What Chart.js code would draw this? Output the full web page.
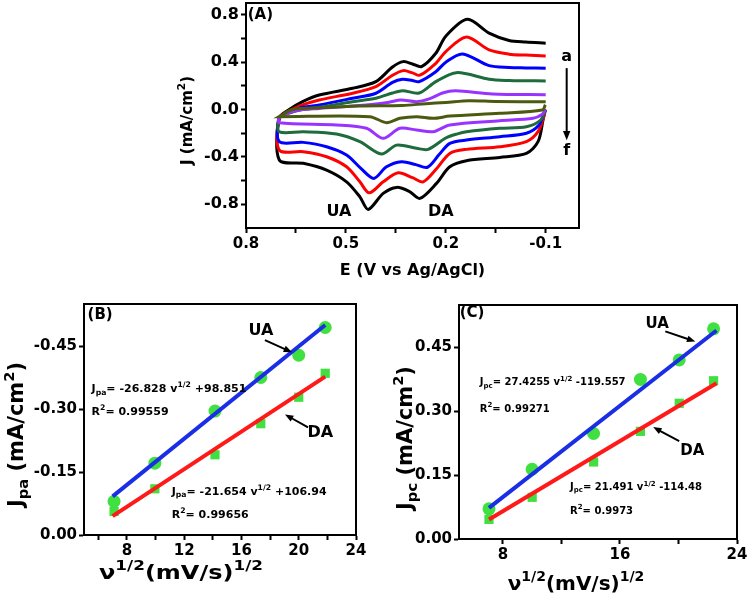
<!DOCTYPE html>
<html>
<head>
<meta charset="utf-8">
<script src="https://cdn.jsdelivr.net/npm/chart.js@4.4.0/dist/chart.umd.min.js"></script>
<style>
  body { margin: 0; background: #fff; width: 749px; height: 603px; position: relative; overflow: hidden; }
  .box { position: absolute; }
</style>
</head>
<body>
<div class="box" style="left:150px;top:0;width:440px;height:290px"><canvas id="cA"></canvas></div>
<div class="box" style="left:0;top:295px;width:370px;height:308px"><canvas id="cB"></canvas></div>
<div class="box" style="left:370px;top:295px;width:379px;height:308px"><canvas id="cC"></canvas></div>
<script>
// ---------- data ----------

// (A) voltammograms a..f, pairs of [E (V), J (mA/cm2)]
// forward scan (upper branch) and return scan (lower branch)
const upA = [[-0.10,0.561],[-0.04,0.570],[0.01,0.583],[0.07,0.645],[0.135,0.762],[0.20,0.620],[0.23,0.476],[0.273,0.363],[0.30,0.385],[0.328,0.405],[0.36,0.360],[0.41,0.236],[0.48,0.180],[0.58,0.123],[0.63,0.067],[0.67,0.000],[0.70,-0.07]];
const upB = [[-0.10,0.453],[-0.04,0.460],[0.01,0.468],[0.07,0.504],[0.138,0.613],[0.20,0.490],[0.23,0.391],[0.278,0.290],[0.30,0.310],[0.328,0.329],[0.36,0.290],[0.41,0.194],[0.48,0.138],[0.58,0.081],[0.63,0.039],[0.67,-0.01],[0.70,-0.07]];
const upC = [[-0.10,0.349],[-0.04,0.352],[0.01,0.355],[0.07,0.371],[0.15,0.470],[0.20,0.400],[0.23,0.320],[0.28,0.236],[0.30,0.245],[0.33,0.256],[0.36,0.230],[0.41,0.138],[0.48,0.096],[0.58,0.039],[0.63,0.019],[0.67,-0.02],[0.70,-0.07]];
const upD = [[-0.10,0.242],[-0.04,0.243],[0.01,0.245],[0.07,0.256],[0.168,0.312],[0.23,0.236],[0.28,0.140],[0.33,0.160],[0.36,0.140],[0.41,0.096],[0.48,0.067],[0.58,0.019],[0.63,0.000],[0.67,-0.03],[0.70,-0.07]];
const upE = [[-0.10,0.126],[0.06,0.132],[0.17,0.158],[0.21,0.140],[0.25,0.090],[0.288,0.067],[0.335,0.081],[0.37,0.062],[0.41,0.047],[0.48,0.030],[0.58,0.010],[0.65,-0.01],[0.70,-0.07]];
const upF = [[-0.10,0.067],[0.05,0.068],[0.13,0.075],[0.20,0.060],[0.26,0.050],[0.33,0.035],[0.46,0.030],[0.58,0.015],[0.66,0.000],[0.70,-0.06]];

const downA = [[0.70,-0.426],[0.628,-0.454],[0.558,-0.511],[0.498,-0.610],[0.458,-0.737],[0.433,-0.843],[0.388,-0.708],[0.348,-0.657],[0.31,-0.690],[0.278,-0.750],[0.228,-0.623],[0.188,-0.483],[0.138,-0.432],[0.038,-0.404],[-0.042,-0.370],[-0.077,-0.271],[-0.092,-0.088],[-0.099,0.000]];
const downB = [[0.70,-0.342],[0.628,-0.356],[0.558,-0.398],[0.498,-0.483],[0.458,-0.610],[0.430,-0.703],[0.388,-0.610],[0.343,-0.534],[0.30,-0.575],[0.268,-0.610],[0.228,-0.500],[0.188,-0.370],[0.138,-0.336],[0.038,-0.314],[-0.042,-0.271],[-0.077,-0.187],[-0.094,-0.060],[-0.099,0.000]];
const downC = [[0.70,-0.271],[0.628,-0.277],[0.558,-0.314],[0.498,-0.384],[0.455,-0.497],[0.416,-0.581],[0.378,-0.483],[0.333,-0.440],[0.29,-0.465],[0.255,-0.487],[0.22,-0.380],[0.188,-0.285],[0.138,-0.257],[0.038,-0.229],[-0.042,-0.200],[-0.080,-0.130],[-0.095,-0.030],[-0.099,0.000]];
const downD = [[0.70,-0.187],[0.628,-0.187],[0.528,-0.206],[0.458,-0.271],[0.393,-0.376],[0.348,-0.300],[0.288,-0.327],[0.253,-0.336],[0.20,-0.240],[0.165,-0.205],[0.138,-0.187],[0.038,-0.158],[-0.042,-0.145],[-0.085,-0.088],[-0.099,0.000]];
const downE = [[0.70,-0.111],[0.528,-0.130],[0.438,-0.158],[0.388,-0.243],[0.338,-0.158],[0.288,-0.173],[0.238,-0.187],[0.188,-0.130],[0.038,-0.094],[-0.062,-0.074],[-0.090,-0.040],[-0.099,0.000]];
const downF = [[0.70,-0.060],[0.428,-0.060],[0.378,-0.111],[0.338,-0.074],[0.288,-0.060],[0.238,-0.074],[0.188,-0.055],[0.038,-0.031],[-0.090,-0.003],[-0.099,0.040]];

const cvUp = [upA, upB, upC, upD, upE, upF];
const cvDown = [downA, downB, downC, downD, downE, downF];
const cvColors = ['#000000', '#ff0000', '#0000ff', '#1e6b3c', '#9933ff', '#4b5a0f'];

const xTicksA = [0.8, 0.65, 0.5, 0.35, 0.2, 0.05, -0.1];
const xMajorA = [0.8, 0.5, 0.2, -0.1];
const yTicksA = [-0.8, -0.6, -0.4, -0.2, 0, 0.2, 0.4, 0.6, 0.8];
const yMajorA = [-0.8, -0.4, 0, 0.4, 0.8];

// (B) anodic peak current vs square root of scan rate
const sqrtRateB = [7.1, 9.95, 14.15, 17.35, 20.0, 21.85];
const jpaUA = [-0.080, -0.171, -0.295, -0.375, -0.428, -0.494];
const jpaDA = [-0.056, -0.110, -0.191, -0.265, -0.328, -0.385];
const fitXB = [7.0, 21.85];
const fitB_UA = [-0.092, -0.500];
const fitB_DA = [-0.045, -0.377];
const xTicksB = [6, 8, 10, 12, 14, 16, 18, 20, 22, 24];
const xMajorB = [8, 12, 16, 20, 24];
const yTicksB = [0, -0.15, -0.30, -0.45];

// (C) cathodic peak current vs square root of scan rate
const sqrtRateC = [7.05, 10.0, 14.2, 17.4, 20.05, 22.4];
const jpcUA = [0.071, 0.164, 0.248, 0.375, 0.421, 0.494];
const jpcDA = [0.046, 0.098, 0.181, 0.253, 0.319, 0.372];
const fitXC = [7.05, 22.6];
const fitC_UA = [0.073, 0.490];
const fitC_DA = [0.046, 0.366];
const xTicksC = [8, 12, 16, 20, 24];
const xMajorC = [8, 16, 24];
const yTicksC = [0, 0.15, 0.30, 0.45];

// ---------- helpers ----------

const FAM = '"DejaVu Sans", "Liberation Sans", Arial, sans-serif';

function pts(xs, ys) {
    return xs.map((x, i) => ({ x: x, y: ys[i] }));
}

function axis(o) {
    return {
        type: 'linear',
        min: o.min, max: o.max, reverse: !!o.reverse,
        border: { color: '#000', width: 2 },
        grid: { drawOnChartArea: false, drawTicks: true, tickLength: 5, tickWidth: 2, tickColor: '#000' },
        ticks: {
            color: '#000', padding: o.pad || 2, autoSkip: false, maxRotation: 0,
            font: { family: FAM, size: o.size, weight: 'bold' },
            callback: v => (o.major.includes(v) ? v.toFixed(o.dec) : '')
        },
        afterBuildTicks: s => { s.ticks = o.ticks.map(v => ({ value: v })); },
        afterFit: s => {
            if (o.w) s.width = o.w;
            if (o.h) s.height = o.h;
            // no extra room for labels sticking out past the plot
            s.paddingTop = 0; s.paddingBottom = 0; s.paddingLeft = 0; s.paddingRight = 0;
        }
    };
}

// text with sub / superscripts: parts = [[text, mode]], mode 1 sup, -1 sub
// sx stretches the text sideways
function rich(ctx, parts, x, y, size, align, rot, sx) {
    sx = sx || 1;
    ctx.save();
    ctx.translate(x, y);
    if (rot) ctx.rotate(rot);
    ctx.scale(sx, 1);
    let w = 0;
    parts.forEach(p => {
        ctx.font = 'bold ' + (p[1] ? size * 0.7 : size) + 'px ' + FAM;
        w += ctx.measureText(p[0]).width;
    });
    let cx = align === 'center' ? -w / 2 : 0;
    ctx.fillStyle = '#000';
    ctx.textBaseline = 'middle';
    ctx.textAlign = 'left';
    parts.forEach(p => {
        const s = p[1] ? size * 0.7 : size;
        ctx.font = 'bold ' + s + 'px ' + FAM;
        const dy = p[1] === 1 ? -size * 0.38 : (p[1] === -1 ? size * 0.3 : 0);
        ctx.fillText(p[0], cx, dy);
        cx += ctx.measureText(p[0]).width;
    });
    ctx.restore();
}

function arrow(ctx, x1, y1, x2, y2, lw, head) {
    const a = Math.atan2(y2 - y1, x2 - x1);
    ctx.save();
    ctx.strokeStyle = '#000';
    ctx.fillStyle = '#000';
    ctx.lineWidth = lw;
    ctx.beginPath();
    ctx.moveTo(x1, y1);
    ctx.lineTo(x2 - Math.cos(a) * head * 0.8, y2 - Math.sin(a) * head * 0.8);
    ctx.stroke();
    ctx.beginPath();
    ctx.moveTo(x2, y2);
    ctx.lineTo(x2 - head * Math.cos(a - 0.38), y2 - head * Math.sin(a - 0.38));
    ctx.lineTo(x2 - head * Math.cos(a + 0.38), y2 - head * Math.sin(a + 0.38));
    ctx.closePath();
    ctx.fill();
    ctx.restore();
}

const framePlugin = {
    id: 'frame',
    afterDatasetsDraw(chart) {
        const a = chart.chartArea, ctx = chart.ctx;
        ctx.save();
        ctx.strokeStyle = '#000';
        ctx.lineWidth = 2;
        ctx.strokeRect(a.left, a.top, a.right - a.left, a.bottom - a.top);
        ctx.restore();
    }
};

function baseOptions(padding, scales) {
    return {
        responsive: true,
        maintainAspectRatio: false,
        animation: false,
        layout: { padding: padding, autoPadding: false },
        plugins: { legend: { display: false }, tooltip: { enabled: false } },
        scales: scales
    };
}

// ---------- (A) ----------

const cvSets = [];
for (let i = cvUp.length - 1; i >= 0; i--) {
    cvSets.push({
        label: String.fromCharCode(97 + i),
        data: cvUp[i].concat(cvDown[i]).map(p => ({ x: p[0], y: p[1] })),
        showLine: true,
        borderColor: cvColors[i],
        borderWidth: 3,
        pointRadius: 0,
        tension: 0.3
    });
}

new Chart(document.getElementById('cA'), {
    type: 'scatter',
    data: { datasets: cvSets },
    options: baseOptions({ left: 0, right: 11, top: 3, bottom: 0 }, {
        x: axis({ min: -0.2, max: 0.8, reverse: true, ticks: xTicksA, major: xMajorA, dec: 1, size: 15, h: 62, pad: 2 }),
        y: axis({ min: -1.0, max: 0.9, ticks: yTicksA, major: yMajorA, dec: 1, size: 16, w: 96 })
    }),
    plugins: [framePlugin, {
        id: 'textA',
        afterDraw(chart) {
            const ctx = chart.ctx, a = chart.chartArea, x = chart.scales.x, y = chart.scales.y;
            const X = v => x.getPixelForValue(v), Y = v => y.getPixelForValue(v);
            rich(ctx, [['J (mA/cm', 0], ['2', 1], [')', 0]], a.left - 58, (a.top + a.bottom) / 2 + 5, 15, 'center', -Math.PI / 2);
            rich(ctx, [['E (V vs Ag/AgCl)', 0]], (a.left + a.right) / 2, a.bottom + 43, 16, 'center');
            rich(ctx, [['(A)', 0]], X(0.795), Y(0.8), 15, 'left');
            rich(ctx, [['UA', 0]], X(0.521), Y(-0.866), 16, 'center');
            rich(ctx, [['DA', 0]], X(0.215), Y(-0.866), 16, 'center');
            rich(ctx, [['a', 0]], X(-0.163), Y(0.445), 16, 'center');
            rich(ctx, [['f', 0]], X(-0.163), Y(-0.35), 16, 'center');
            arrow(ctx, X(-0.163), Y(0.35), X(-0.163), Y(-0.26), 2, 10);
        }
    }]
});

// ---------- (B) ----------

new Chart(document.getElementById('cB'), {
    type: 'scatter',
    data: {
        datasets: [
            { data: pts(fitXB, fitB_UA), showLine: true, borderColor: '#1a2ee6', borderWidth: 4, pointRadius: 0 },
            { data: pts(fitXB, fitB_DA), showLine: true, borderColor: '#ff1a1a', borderWidth: 4, pointRadius: 0 },
            { data: pts(sqrtRateB, jpaUA), pointStyle: 'circle', pointRadius: 6.5, backgroundColor: '#3fe03f', borderWidth: 0 },
            { data: pts(sqrtRateB, jpaDA), pointStyle: 'rect', pointRadius: 6.5, backgroundColor: '#3fe03f', borderWidth: 0 }
        ]
    },
    options: baseOptions({ left: 0, right: 14, top: 9, bottom: 0 }, {
        x: axis({ min: 5, max: 24, ticks: xTicksB, major: xMajorB, dec: 0, size: 15, h: 68 }),
        y: axis({ min: -0.55, max: 0, reverse: true, ticks: yTicksB, major: yTicksB, dec: 2, size: 15, w: 84 })
    }),
    plugins: [framePlugin, {
        id: 'textB',
        afterDraw(chart) {
            const ctx = chart.ctx, a = chart.chartArea, x = chart.scales.x, y = chart.scales.y;
            const X = v => x.getPixelForValue(v), Y = v => y.getPixelForValue(v);
            rich(ctx, [['J', 0], ['pa', -1], [' (mA/cm', 0], ['2', 1], [')', 0]], a.left - 66, (a.top + a.bottom) / 2 + 15, 21, 'center', -Math.PI / 2);
            rich(ctx, [['\u03bd', 0], ['1/2', 1], ['(mV/s)', 0], ['1/2', 1]], a.left + 97, a.bottom + 39, 20, 'center', 0, 1.2);
            rich(ctx, [['(B)', 0]], X(5.25), Y(-0.524), 15, 'left');
            rich(ctx, [['UA', 0]], X(17.36), Y(-0.486), 16, 'center');
            rich(ctx, [['DA', 0]], X(21.5), Y(-0.244), 16, 'center');
            arrow(ctx, X(17.64), Y(-0.464), X(19.53), Y(-0.435), 2, 9);
            arrow(ctx, X(20.65), Y(-0.256), X(19.04), Y(-0.287), 2, 9);
            rich(ctx, [['J', 0], ['pa', -1], ['= -26.828 v', 0], ['1/2', 1], [' +98.851', 0]], X(5.53), Y(-0.347), 11, 'left');
            rich(ctx, [['R', 0], ['2', 1], ['= 0.99559', 0]], X(5.53), Y(-0.292), 11, 'left');
            rich(ctx, [['J', 0], ['pa', -1], ['= -21.654 v', 0], ['1/2', 1], [' +106.94', 0]], X(11.13), Y(-0.103), 11, 'left');
            rich(ctx, [['R', 0], ['2', 1], ['= 0.99656', 0]], X(11.13), Y(-0.048), 11, 'left');
        }
    }]
});

// ---------- (C) ----------

new Chart(document.getElementById('cC'), {
    type: 'scatter',
    data: {
        datasets: [
            { data: pts(fitXC, fitC_UA), showLine: true, borderColor: '#1a2ee6', borderWidth: 4, pointRadius: 0 },
            { data: pts(fitXC, fitC_DA), showLine: true, borderColor: '#ff1a1a', borderWidth: 4, pointRadius: 0 },
            { data: pts(sqrtRateC, jpcUA), pointStyle: 'circle', pointRadius: 6.5, backgroundColor: '#3fe03f', borderWidth: 0 },
            { data: pts(sqrtRateC, jpcDA), pointStyle: 'rect', pointRadius: 6.5, backgroundColor: '#3fe03f', borderWidth: 0 }
        ]
    },
    options: baseOptions({ left: 0, right: 12, top: 10, bottom: 0 }, {
        x: axis({ min: 5, max: 24, ticks: xTicksC, major: xMajorC, dec: 0, size: 15, h: 64 }),
        y: axis({ min: 0, max: 0.55, ticks: yTicksC, major: yTicksC, dec: 2, size: 15, w: 89 })
    }),
    plugins: [framePlugin, {
        id: 'textC',
        afterDraw(chart) {
            const ctx = chart.ctx, a = chart.chartArea, x = chart.scales.x, y = chart.scales.y;
            const X = v => x.getPixelForValue(v), Y = v => y.getPixelForValue(v);
            rich(ctx, [['J', 0], ['pc', -1], [' (mA/cm', 0], ['2', 1], [')', 0]], a.left - 52, (a.top + a.bottom) / 2 + 16, 21, 'center', -Math.PI / 2);
            rich(ctx, [['\u03bd', 0], ['1/2', 1], ['(mV/s)', 0], ['1/2', 1]], a.left + 117, a.bottom + 46, 20, 'center');
            rich(ctx, [['(C)', 0]], X(5.05), Y(0.53), 15, 'left');
            rich(ctx, [['UA', 0]], X(18.55), Y(0.506), 15, 'center');
            rich(ctx, [['DA', 0]], X(20.95), Y(0.206), 15, 'center');
            arrow(ctx, X(19.1), Y(0.488), X(21.15), Y(0.464), 2, 9);
            arrow(ctx, X(20.05), Y(0.23), X(18.27), Y(0.263), 2, 9);
            rich(ctx, [['J', 0], ['pc', -1], ['= 27.4255 v', 0], ['1/2', 1], [' -119.557', 0]], X(6.42), Y(0.367), 10, 'left');
            rich(ctx, [['R', 0], ['2', 1], ['= 0.99271', 0]], X(6.42), Y(0.305), 10, 'left');
            rich(ctx, [['J', 0], ['pc', -1], ['= 21.491 v', 0], ['1/2', 1], [' -114.48', 0]], X(12.59), Y(0.121), 10, 'left');
            rich(ctx, [['R', 0], ['2', 1], ['= 0.9973', 0]], X(12.59), Y(0.065), 10, 'left');
        }
    }]
});
</script>
</body>
</html>
